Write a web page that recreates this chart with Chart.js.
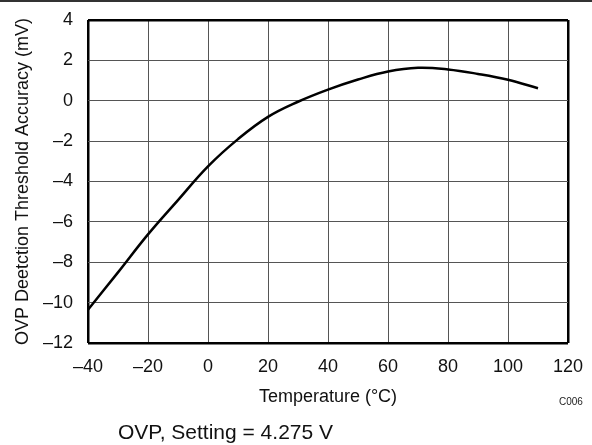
<!DOCTYPE html>
<html>
<head>
<meta charset="utf-8">
<script src="https://cdn.jsdelivr.net/npm/chart.js@4"></script>
<style>
  html, body { margin: 0; padding: 0; background: #fff; }
  #wrap { position: relative; width: 592px; height: 445px; font-family: "Liberation Sans", Arial, sans-serif; }
  #topline { position: absolute; left: 0; top: 0; width: 592px; height: 2px; background: #333; }
  #caption { position: absolute; left: 118px; top: 420px; font-size: 21px; line-height: 24px; color: #111; white-space: nowrap; }
  #code { position: absolute; left: 559px; top: 396px; font-size: 10px; line-height: 12px; color: #222; }
</style>
</head>
<body>
<div id="wrap">
  <canvas id="chart"></canvas>
  <div id="topline"></div>
  <div id="code">C006</div>
  <div id="caption">OVP, Setting = 4.275 V</div>
</div>
<script>
// Temperature (°C) et précision du seuil OVP (mV)
const temps = [-40, -30, -20, -10, 0, 10, 20, 30, 40, 50, 60, 70, 80, 90, 100, 110];
const accuracy = [-10.35, -8.5, -6.62, -4.92, -3.25, -1.9, -0.8, -0.05, 0.55, 1.05, 1.45, 1.63, 1.55, 1.33, 1.04, 0.62];

const xMin = -40, xMax = 120, xStep = 20;
const yMin = -12, yMax = 4, yStep = 2;

const FONT = "'Liberation Sans', Arial, sans-serif";

// tirets typographiques pour les nombres négatifs
function dash(v) {
  return String(v).replace("-", "\u2013");
}

// bords du cadre plus épais que la grille
function gridWidth(ctx, lo, hi) {
  if (!ctx.tick) return 1;
  return (ctx.tick.value === lo || ctx.tick.value === hi) ? 2.5 : 1;
}
function gridColor(ctx, lo, hi) {
  if (!ctx.tick) return "#555";
  return (ctx.tick.value === lo || ctx.tick.value === hi) ? "#000" : "#555";
}

const points = temps.map((t, i) => ({ x: t, y: accuracy[i] }));

new Chart(document.getElementById("chart"), {
  type: "scatter",
  data: {
    datasets: [{
      data: points,
      showLine: true,
      borderColor: "#000",
      borderWidth: 2.5,
      pointRadius: 0,
      tension: 0.4,
      fill: false
    }]
  },
  options: {
    responsive: true,
    maintainAspectRatio: false,
    animation: false,
    layout: { padding: { top: 20, right: 24, bottom: 37, left: 0 } },
    plugins: { legend: { display: false }, tooltip: { enabled: false } },
    scales: {
      x: {
        type: "linear",
        min: xMin, max: xMax,
        border: { display: false },
        grid: {
          drawTicks: false,
          color: ctx => gridColor(ctx, xMin, xMax),
          lineWidth: ctx => gridWidth(ctx, xMin, xMax)
        },
        ticks: {
          stepSize: xStep,
          padding: 13,
          color: "#111",
          font: { family: FONT, size: 18 },
          callback: v => dash(v)
        },
        title: {
          display: true,
          text: "Temperature (°C)",
          color: "#111",
          font: { family: FONT, size: 18 },
          padding: { top: 8, bottom: 0 }
        },
        afterFit: scale => {
          scale.height = 65;
          scale.paddingLeft = 0;
          scale.paddingRight = 0;
        }
      },
      y: {
        min: yMin, max: yMax,
        border: { display: false },
        grid: {
          drawTicks: false,
          color: ctx => gridColor(ctx, yMin, yMax),
          lineWidth: ctx => gridWidth(ctx, yMin, yMax)
        },
        ticks: {
          stepSize: yStep,
          padding: 15,
          color: "#111",
          font: { family: FONT, size: 18 },
          callback: v => dash(v)
        },
        title: {
          display: true,
          text: "OVP Deetction Threshold Accuracy (mV)",
          color: "#111",
          font: { family: FONT, size: 18 },
          padding: { top: 12, bottom: 0 }
        },
        afterFit: scale => {
          scale.width = 88;
          scale.paddingTop = 0;
          scale.paddingBottom = 0;
        }
      }
    }
  }
});
</script>
</body>
</html>
